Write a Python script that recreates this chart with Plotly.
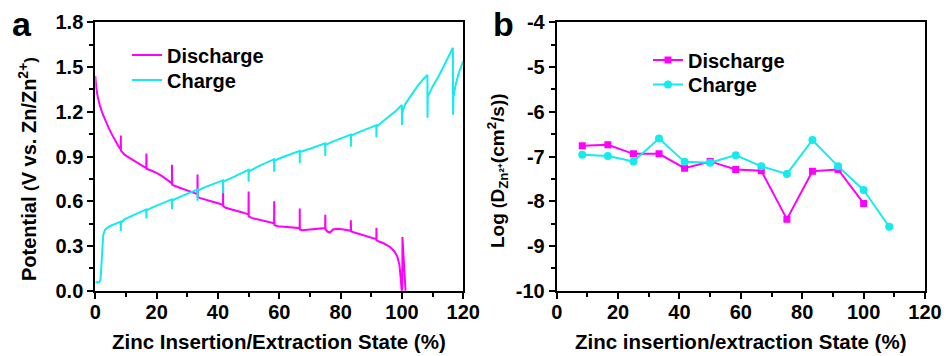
import plotly.graph_objects as go

# ---------------- Panel a: GITT potential profiles ----------------
discharge_x = [0, 0.3, 0.8, 1.5, 2.5, 3.5, 4.5, 5.5, 6.5, 7.5, 8.3, 8.33, 8.36,
               9, 9.5, 11, 13, 15, 16.6, 16.67, 16.7,
               18, 20, 22, 24, 25.0, 25.0, 25.05,
               26, 28, 30, 32, 33.3, 33.33, 33.4,
               34, 36, 38, 40, 41.65, 41.67, 41.7,
               42.5, 45, 48, 49.95, 50.0, 50.05,
               51, 54, 57, 58.3, 58.33, 58.4,
               59.5, 63, 66.65, 66.67, 66.7,
               67.5, 70, 73, 74.95, 75.0, 75.05,
               75.8, 76.5, 77.5, 79, 81, 83.3, 83.33, 83.4,
               84.5, 87, 90, 91.65, 91.67, 91.7,
               92.5, 94, 96, 97.5, 98.5, 99.2, 99.6, 99.85,
               100.1, 100.15, 100.5, 100.9, 101.3]
discharge_y = [1.44, 1.36, 1.30, 1.24, 1.18, 1.13, 1.085, 1.045, 1.005, 0.97, 0.945, 1.04, 0.94,
               0.925, 0.912, 0.892, 0.866, 0.842, 0.822, 0.92, 0.818,
               0.808, 0.79, 0.765, 0.738, 0.72, 0.845, 0.712,
               0.702, 0.688, 0.674, 0.66, 0.648, 0.78, 0.632,
               0.622, 0.612, 0.598, 0.586, 0.575, 0.70, 0.568,
               0.556, 0.543, 0.525, 0.512, 0.665, 0.498,
               0.488, 0.474, 0.46, 0.452, 0.60, 0.44,
               0.432, 0.426, 0.42, 0.552, 0.41,
               0.405, 0.41, 0.418, 0.42, 0.51, 0.41,
               0.395, 0.39, 0.41, 0.415, 0.41, 0.402, 0.472, 0.398,
               0.39, 0.375, 0.356, 0.346, 0.422, 0.338,
               0.33, 0.318, 0.295, 0.265, 0.228, 0.17, 0.08, -0.05,
               -0.05, 0.36, 0.25, 0.12, -0.05]

charge_x = [0, 0.7, 1.3, 1.7, 2.0, 2.3, 2.6, 3.2, 4.8, 6.5, 8.3, 8.33, 8.36,
            9.5, 12.4, 15, 16.6, 16.67, 16.7,
            19, 22, 24.95, 25.0, 25.05,
            28, 31, 33.3, 33.33, 33.4,
            36, 39, 41.65, 41.67, 41.7,
            45, 48, 49.95, 50.0, 50.05,
            53, 56, 58.3, 58.33, 58.4,
            61, 64, 66.65, 66.67, 66.7,
            70, 73, 74.95, 75.0, 75.05,
            78, 81, 83.3, 83.33, 83.4,
            86, 89, 91.65, 91.67, 91.7,
            94, 96, 98, 99.95, 100.0, 100.05,
            101, 103, 105, 107, 108.3, 108.33, 108.4,
            110, 112, 114, 116.6, 116.67, 116.8, 117.5, 118.5, 120]
charge_y = [0.055, 0.055, 0.058, 0.075, 0.16, 0.30, 0.375, 0.41, 0.434, 0.448, 0.462, 0.40, 0.455,
            0.478, 0.508, 0.53, 0.545, 0.485, 0.538,
            0.562, 0.588, 0.612, 0.546, 0.605,
            0.632, 0.658, 0.678, 0.604, 0.672,
            0.696, 0.72, 0.74, 0.653, 0.732,
            0.762, 0.79, 0.81, 0.731, 0.80,
            0.832, 0.86, 0.882, 0.798, 0.872,
            0.895, 0.918, 0.938, 0.854, 0.93,
            0.952, 0.972, 0.988, 0.903, 0.978,
            1.005, 1.03, 1.047, 0.966, 1.04,
            1.064, 1.09, 1.11, 1.029, 1.1,
            1.14, 1.17, 1.205, 1.245, 1.111, 1.19,
            1.25, 1.31, 1.37, 1.42, 1.447, 1.16, 1.30,
            1.37, 1.44, 1.52, 1.63, 1.18, 1.30, 1.38, 1.46, 1.54]

# ---------------- Panel b: diffusion coefficients ----------------
state_discharge = [8.33, 16.67, 25.0, 33.33, 41.67, 50.0, 58.33, 66.67, 75.0, 83.33, 91.67, 100.0]
logD_discharge = [-6.76, -6.74, -6.94, -6.94, -7.26, -7.11, -7.29, -7.32, -8.40, -7.33, -7.29, -8.05]
state_charge = [8.33, 16.67, 25.0, 33.33, 41.67, 50.0, 58.33, 66.67, 75.0, 83.33, 91.67, 100.0, 108.33]
logD_charge = [-6.96, -6.99, -7.11, -6.60, -7.12, -7.14, -6.97, -7.22, -7.39, -6.63, -7.22, -7.75, -8.57]

# tick labels
a_xticks = [0, 20, 40, 60, 80, 100, 120]
a_yticks = [0.0, 0.3, 0.6, 0.9, 1.2, 1.5, 1.8]
a_yticklabels = ["0.0", "0.3", "0.6", "0.9", "1.2", "1.5", "1.8"]
b_xticks = [0, 20, 40, 60, 80, 100, 120]
b_yticks = [-10, -9, -8, -7, -6, -5, -4]
b_yticklabels = ["-10", "-9", "-8", "-7", "-6", "-5", "-4"]

MAGENTA = "#FF00FF"
CYAN = "#14EBEB"
FONT = "Liberation Sans"
W, H = 946, 356


def px(x):
    return x / W


def py(y):
    return 1 - y / H


fig = go.Figure()

fig.add_trace(go.Scatter(x=discharge_x, y=discharge_y, mode="lines", name="Discharge",
                         line=dict(color=MAGENTA, width=2), xaxis="x", yaxis="y", legend="legend"))
fig.add_trace(go.Scatter(x=charge_x, y=charge_y, mode="lines", name="Charge",
                         line=dict(color=CYAN, width=2), xaxis="x", yaxis="y", legend="legend2"))

fig.add_trace(go.Scatter(x=state_discharge, y=logD_discharge, mode="lines+markers", name="Discharge",
                         line=dict(color=MAGENTA, width=2), marker=dict(symbol="square", size=7, color=MAGENTA),
                         xaxis="x2", yaxis="y2", legend="legend3"))
fig.add_trace(go.Scatter(x=state_charge, y=logD_charge, mode="lines+markers", name="Charge",
                         line=dict(color=CYAN, width=2), marker=dict(symbol="circle", size=8, color=CYAN),
                         xaxis="x2", yaxis="y2", legend="legend4"))

tickfont = dict(family=FONT, size=20, color="black", weight="bold")
legfont = dict(family=FONT, size=20, color="black", weight="bold")

axis_common = dict(showline=True, linewidth=2, linecolor="black", mirror=True,
                   ticks="outside", ticklen=6, tickwidth=2, tickcolor="black",
                   showgrid=False, zeroline=False, tickfont=tickfont, automargin=False)


def leg(x, ycenter):
    return dict(x=px(x), y=py(ycenter), xanchor="left", yanchor="middle",
                bgcolor="rgba(0,0,0,0)", font=legfont, itemwidth=30,
                borderwidth=0, tracegroupgap=0)


def ann(text, x, y, size=20, angle=0):
    return dict(text=text, x=px(x), y=py(y), xref="paper", yref="paper", showarrow=False,
                xanchor="center", yanchor="middle", textangle=angle,
                font=dict(family=FONT, size=size, color="black", weight="bold"))


fig.update_layout(
    width=W, height=H,
    margin=dict(l=0, r=0, t=0, b=0),
    paper_bgcolor="white", plot_bgcolor="white",
    showlegend=True,
    xaxis=dict(domain=[px(95.3), px(463.3)], range=[0, 120], tickvals=a_xticks,
               minor=dict(dtick=10, ticklen=4, tickwidth=2, tickcolor="black", ticks="outside"),
               ticklabelstandoff=-4, anchor="y", **axis_common),
    yaxis=dict(domain=[py(290.7), py(22.3)], range=[0, 1.8], tickvals=a_yticks,
               ticktext=a_yticklabels,
               minor=dict(dtick=0.15, ticklen=4, tickwidth=2, tickcolor="black", ticks="outside"),
               anchor="x", **axis_common),
    xaxis2=dict(domain=[px(556.7), px(925)], range=[0, 120], tickvals=b_xticks,
                minor=dict(dtick=10, ticklen=4, tickwidth=2, tickcolor="black", ticks="outside"),
                ticklabelstandoff=-4, anchor="y2", **axis_common),
    yaxis2=dict(domain=[py(290.7), py(22.3)], range=[-10, -4], tickvals=b_yticks,
                ticktext=b_yticklabels,
                minor=dict(dtick=0.5, ticklen=4, tickwidth=2, tickcolor="black", ticks="outside"),
                anchor="x2", **axis_common),
    legend=leg(127, 55),
    legend2=leg(127, 80),
    legend3=leg(648, 60),
    legend4=leg(648, 84.5),
    annotations=[
        ann("a", 22, 24, size=34),
        ann("b", 503, 24, size=34),
        ann("Zinc Insertion/Extraction State (%)", 279, 341, size=20.5),
        ann("Zinc insertion/extraction State (%)", 740, 341, size=20.5),
        ann("Potential <span style='font-size:17px'>(</span>V vs. Zn/Zn<sup>2+</sup><span style='font-size:17px'>)</span>",
            27, 169, size=20, angle=-90),
        ann("Log <span style='font-size:16px'>(</span>D<sub>Zn²⁺</sub>(cm<sup>2</sup>/s))",
            498, 170, size=19, angle=-90),
    ],
)

fig.write_html("out.html", config={"displayModeBar": False},
               post_script="document.body.style.margin='0';")
